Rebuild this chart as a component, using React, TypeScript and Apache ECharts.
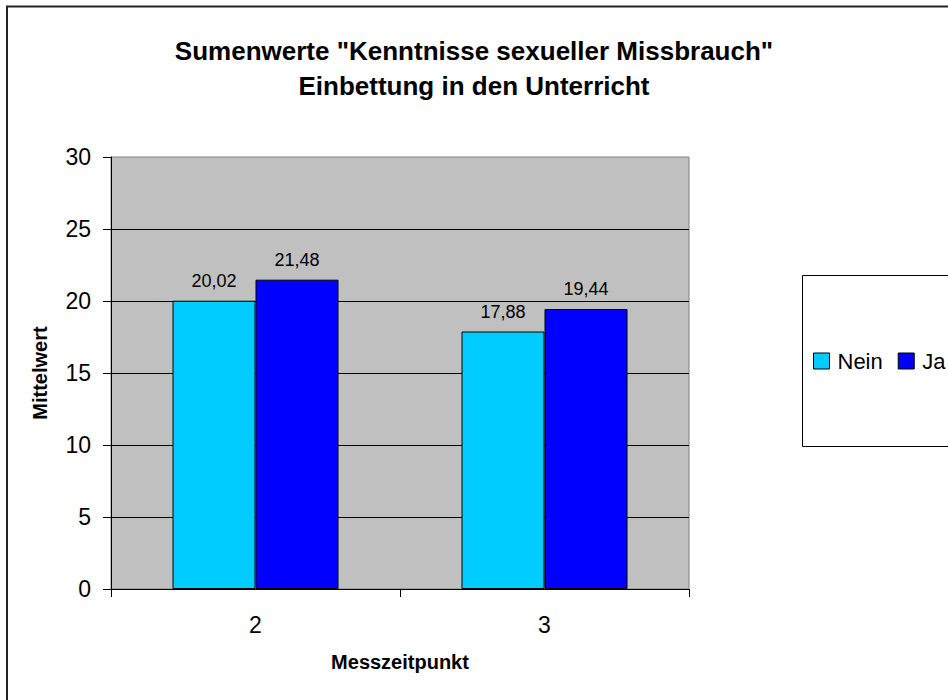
import React, { useEffect, useRef } from "react";
import * as echarts from "echarts";

const titleLines = ['Sumenwerte "Kenntnisse sexueller Missbrauch"', "Einbettung in den Unterricht"];
const categories = ["2", "3"];
const seriesNames = ["Nein", "Ja"];
const neinValues = [20.02, 17.88];
const jaValues = [21.48, 19.44];
const yAxisName = "Mittelwert";
const xAxisName = "Messzeitpunkt";
const colors = ["#00CCFF", "#0000FF"];

const FONT = "Arial, 'Liberation Sans', sans-serif";

export default function App() {
  const ref = useRef<HTMLDivElement>(null);
  useEffect(() => {
    if (!ref.current) return;
    const chart = echarts.init(ref.current, undefined, { renderer: "svg" });
    const fmt = (p: any) => Number(p.value).toFixed(2).replace(".", ",");
    chart.setOption({
      animation: false,
      backgroundColor: "#ffffff",
      textStyle: { fontFamily: FONT },
      title: {
        text: titleLines.join("\n"),
        left: "center",
        top: 33,
        padding: 0,
        textStyle: { fontSize: 26, fontWeight: "bold", color: "#000", lineHeight: 35, fontFamily: FONT },
      },
      graphic: [
        {
          type: "rect",
          shape: { x: 7, y: 6.5, width: 1000, height: 1000 },
          style: { fill: "none", stroke: "#222", lineWidth: 2 },
          silent: true,
          z: -10,
        },
        {
          type: "rect",
          shape: { x: 802.5, y: 275.5, width: 200, height: 171 },
          style: { fill: "#fff", stroke: "#000", lineWidth: 1 },
          silent: true,
          z: -5,
        },
      ],
      legend: {
        data: seriesNames,
        left: 813,
        top: 350,
        padding: 0,
        itemWidth: 16,
        itemHeight: 16,
        itemGap: 15,
        icon: "rect",
        itemStyle: { borderColor: "#000", borderWidth: 1 },
        textStyle: { fontSize: 22, color: "#000", fontFamily: FONT, padding: [0, 0, 0, 3] },
      },
      grid: {
        left: 111,
        top: 157,
        width: 578,
        height: 432,
        show: true,
        backgroundColor: "#C0C0C0",
        borderColor: "#808080",
        borderWidth: 1,
        containLabel: false,
      },
      xAxis: {
        type: "category",
        data: categories,
        name: xAxisName,
        nameLocation: "middle",
        nameGap: 63,
        nameTextStyle: { fontSize: 20, fontWeight: "bold", color: "#000", fontFamily: FONT },
        axisLine: { show: true, lineStyle: { color: "#000", width: 1 } },
        axisTick: { show: true, length: 8, lineStyle: { color: "#000" } },
        axisLabel: { fontSize: 23, color: "#000", margin: 24, fontFamily: FONT },
        splitLine: { show: false },
      },
      yAxis: {
        type: "value",
        min: 0,
        max: 30,
        interval: 5,
        name: yAxisName,
        nameLocation: "middle",
        nameGap: 61,
        nameRotate: 90,
        nameTextStyle: { fontSize: 20, fontWeight: "bold", color: "#000", fontFamily: FONT },
        axisLine: { show: true, lineStyle: { color: "#000", width: 1 } },
        axisTick: { show: true, length: 8, lineStyle: { color: "#000" } },
        axisLabel: { fontSize: 23, color: "#000", margin: 20, fontFamily: FONT },
        splitLine: { show: true, showMaxLine: false, lineStyle: { color: "#000", width: 1 } },
      },
      series: [
        {
          name: seriesNames[0],
          type: "bar",
          data: neinValues,
          barWidth: 83,
          barGap: "0%",
          itemStyle: { color: colors[0], borderColor: "#000", borderWidth: 1 },
          label: { show: true, position: "top", distance: 11, fontSize: 18, color: "#000", formatter: fmt, fontFamily: FONT },
        },
        {
          name: seriesNames[1],
          type: "bar",
          data: jaValues,
          barWidth: 83,
          barGap: "0%",
          itemStyle: { color: colors[1], borderColor: "#000", borderWidth: 1 },
          label: { show: true, position: "top", distance: 11, fontSize: 18, color: "#000", formatter: fmt, fontFamily: FONT },
        },
      ],
    });
    return () => chart.dispose();
  }, []);
  return (
    <div
      ref={ref}
      style={{ position: "absolute", left: 0, top: 0, width: 948, height: 700, background: "#fff" }}
    />
  );
}
